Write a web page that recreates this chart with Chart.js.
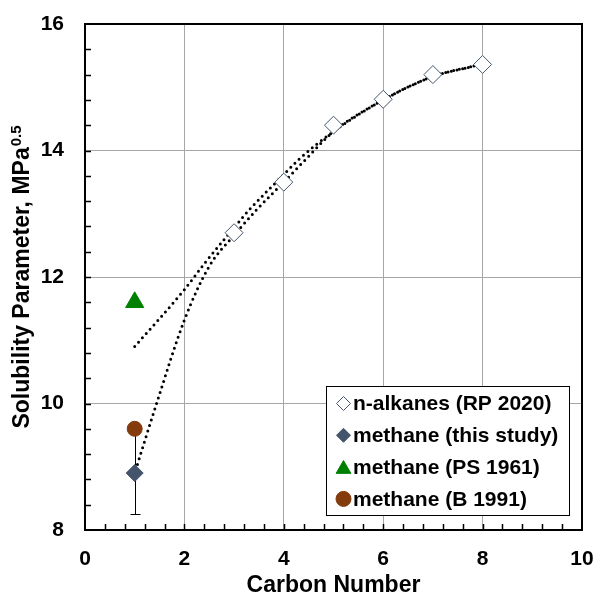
<!DOCTYPE html>
<html>
<head>
<meta charset="utf-8">
<script src="https://cdn.jsdelivr.net/npm/chart.js@4/dist/chart.umd.min.js"></script>
<style>
  html, body { margin: 0; padding: 0; background: #fff; }
  canvas { display: block; }
</style>
</head>
<body>
<canvas id="chart" width="598" height="596"></canvas>
<script>
// Axis ticks
const xTicks = [0, 2, 4, 6, 8, 10];
const yTicks = [8, 10, 12, 14, 16];

// n-alkanes (RP 2020)
const alkaneCarbon = [3, 4, 5, 6, 7, 8];
const alkaneDelta = [12.7, 13.5, 14.4, 14.81, 15.2, 15.36];

// methane (this study), with uncertainty
const methaneCarbon = [1];
const methaneDelta = [8.9];
const methaneError = [0.65];

// methane literature values
const ps1961Carbon = [1];
const ps1961Delta = [11.6];
const b1991Carbon = [1];
const b1991Delta = [9.6];

// dotted trend curves
const trendAX = [1, 2, 2.41, 3, 3.29, 4, 4.29, 5, 6, 7, 7.85];
const trendAY = [10.9, 11.8, 12.22, 12.78, 13.05, 13.62, 13.85, 14.3, 14.8, 15.17, 15.34];
const trendBX = [1.02, 1.44, 2, 2.5, 3, 3.45, 4, 4.43, 5, 6, 7, 7.85];
const trendBY = [8.95, 10.0, 11.32, 12.17, 12.66, 13.06, 13.5, 13.85, 14.3, 14.8, 15.17, 15.34];

const seriesLabels = ['n-alkanes (RP 2020)', 'methane (this study)', 'methane (PS 1961)', 'methane (B 1991)'];

const SLATE = '#44546A';
const GREEN = '#008000';
const BROWN = '#843C0C';
const FONT_FAMILY = '"Liberation Sans", Arial, Helvetica, sans-serif';

const toPoints = (xs, ys) => xs.map((x, i) => ({ x: x, y: ys[i] }));

const trendStyle = {
  type: 'line',
  showLine: true,
  pointRadius: 0,
  pointHoverRadius: 0,
  borderColor: '#000',
  borderWidth: 3,
  borderDash: [0, 5.8],
  borderCapStyle: 'round',
  cubicInterpolationMode: 'monotone',
  fill: false,
  order: 10,
  inLegend: false
};

// keep the plot area fixed: no extra edge padding from the tick labels
const fixScale = size => s => {
  if (s.isHorizontal()) s.height = size; else s.width = size;
  s.paddingLeft = 0; s.paddingRight = 0; s.paddingTop = 0; s.paddingBottom = 0;
};

// error bars drawn under the markers
const errorBarPlugin = {
  id: 'errorBars',
  beforeDatasetsDraw(chart) {
    const ctx = chart.ctx;
    const xs = chart.scales.x, ys = chart.scales.y;
    chart.data.datasets.forEach(ds => {
      if (!ds.errors) return;
      ds.data.forEach((p, i) => {
        const e = ds.errors[i];
        const px = Math.round(xs.getPixelForValue(p.x)) + 0.5;
        const top = Math.round(ys.getPixelForValue(p.y + e)) + 0.5;
        const bot = Math.round(ys.getPixelForValue(p.y - e)) + 0.5;
        ctx.save();
        ctx.strokeStyle = '#000';
        ctx.lineWidth = 1;
        ctx.beginPath();
        ctx.moveTo(px, top);
        ctx.lineTo(px, bot);
        ctx.moveTo(px - 5, top);
        ctx.lineTo(px + 5, top);
        ctx.moveTo(px - 5, bot);
        ctx.lineTo(px + 5, bot);
        ctx.stroke();
        ctx.restore();
      });
    });
  }
};

// plot frame, inward minor ticks, axis titles and the boxed legend
const decorPlugin = {
  id: 'decor',
  afterDraw(chart) {
    const ctx = chart.ctx;
    const a = chart.chartArea;
    const xs = chart.scales.x, ys = chart.scales.y;

    ctx.save();
    // inward tick marks every 0.4 units
    ctx.strokeStyle = '#000';
    ctx.lineWidth = 1.5;
    ctx.beginPath();
    for (let i = 1; i < 25; i++) {
      const px = Math.round(xs.getPixelForValue(i * 0.4)) + 0.5;
      ctx.moveTo(px, a.bottom);
      ctx.lineTo(px, a.bottom - 6);
    }
    for (let i = 1; i < 20; i++) {
      const py = Math.round(ys.getPixelForValue(8 + i * 0.4)) + 0.5;
      ctx.moveTo(a.left, py);
      ctx.lineTo(a.left + 6, py);
    }
    ctx.stroke();

    // frame
    ctx.lineWidth = 2;
    ctx.strokeRect(a.left, a.top, a.right - a.left, a.bottom - a.top);

    // x title
    ctx.fillStyle = '#000';
    ctx.font = 'bold 23px ' + FONT_FAMILY;
    ctx.textAlign = 'center';
    ctx.textBaseline = 'alphabetic';
    ctx.fillText('Carbon Number', (a.left + a.right) / 2, 592);

    // y title with superscript unit exponent
    const main = 'Solubility Parameter, MPa';
    const sup = '0.5';
    const mainFont = 'bold 23px ' + FONT_FAMILY;
    const supFont = 'bold 15px ' + FONT_FAMILY;
    ctx.font = mainFont;
    const wMain = ctx.measureText(main).width;
    ctx.font = supFont;
    const wSup = ctx.measureText(sup).width;
    const total = wMain + wSup + 1;
    ctx.translate(29, (a.top + a.bottom) / 2);
    ctx.rotate(-Math.PI / 2);
    ctx.textAlign = 'left';
    ctx.font = mainFont;
    ctx.fillText(main, -total / 2, 0);
    ctx.font = supFont;
    ctx.fillText(sup, -total / 2 + wMain + 1, -8);
    ctx.restore();

    // legend box
    const box = { x: 326, y: 386, w: 243, h: 129 };
    ctx.save();
    ctx.fillStyle = '#fff';
    ctx.fillRect(box.x, box.y, box.w, box.h);
    ctx.strokeStyle = '#000';
    ctx.lineWidth = 1;
    ctx.strokeRect(box.x + 0.5, box.y + 0.5, box.w, box.h);
    const entries = chart.data.datasets.filter(ds => ds.inLegend);
    ctx.font = 'bold 21px ' + FONT_FAMILY;
    ctx.textAlign = 'left';
    ctx.textBaseline = 'middle';
    entries.forEach((ds, i) => {
      const cy = box.y + 17.5 + i * 31.8;
      ctx.fillStyle = ds.backgroundColor;
      ctx.strokeStyle = ds.borderColor;
      ctx.lineWidth = ds.borderWidth;
      Chart.helpers.drawPoint(ctx, {
        pointStyle: ds.pointStyle,
        radius: ds.legendRadius,
        rotation: 0,
        borderWidth: ds.borderWidth
      }, box.x + 17.5, cy + (ds.pointStyle === 'triangle' ? 2 : 0));
      ctx.fillStyle = '#000';
      ctx.fillText(ds.label, box.x + 27, cy + 1);
    });
    ctx.restore();
  }
};

new Chart(document.getElementById('chart'), {
  type: 'scatter',
  data: {
    datasets: [
      {
        label: seriesLabels[0],
        data: toPoints(alkaneCarbon, alkaneDelta),
        pointStyle: 'rectRot',
        pointRadius: 9,
        legendRadius: 7,
        backgroundColor: '#fff',
        borderColor: SLATE,
        borderWidth: 1,
        order: 1,
        inLegend: true
      },
      {
        label: seriesLabels[1],
        data: toPoints(methaneCarbon, methaneDelta),
        errors: methaneError,
        pointStyle: 'rectRot',
        pointRadius: 8.5,
        legendRadius: 7,
        backgroundColor: SLATE,
        borderColor: SLATE,
        borderWidth: 1,
        order: 1,
        inLegend: true
      },
      {
        label: seriesLabels[2],
        data: toPoints(ps1961Carbon, ps1961Delta),
        pointStyle: 'triangle',
        pointRadius: 10.5,
        legendRadius: 8.5,
        backgroundColor: GREEN,
        borderColor: GREEN,
        borderWidth: 1,
        order: 1,
        inLegend: true
      },
      {
        label: seriesLabels[3],
        data: toPoints(b1991Carbon, b1991Delta),
        pointStyle: 'circle',
        pointRadius: 7.5,
        legendRadius: 7.5,
        backgroundColor: BROWN,
        borderColor: BROWN,
        borderWidth: 1,
        order: 1,
        inLegend: true
      },
      Object.assign({ label: 'trend A', data: toPoints(trendAX, trendAY) }, trendStyle),
      Object.assign({ label: 'trend B', data: toPoints(trendBX, trendBY) }, trendStyle)
    ]
  },
  options: {
    responsive: false,
    devicePixelRatio: 1,
    animation: false,
    layout: { padding: { left: 0, top: 24, right: 16, bottom: 0 } },
    plugins: {
      legend: { display: false },
      tooltip: { enabled: false }
    },
    scales: {
      x: {
        type: 'linear',
        min: 0,
        max: 10,
        afterBuildTicks: s => { s.ticks = xTicks.map(v => ({ value: v })); },
        afterFit: fixScale(66),
        ticks: {
          color: '#000',
          padding: 17,
          font: { family: FONT_FAMILY, size: 21, weight: 'bold' }
        },
        grid: { color: '#a6a6a6', lineWidth: 1, drawTicks: false },
        border: { display: false }
      },
      y: {
        type: 'linear',
        min: 8,
        max: 16,
        afterBuildTicks: s => { s.ticks = yTicks.map(v => ({ value: v })); },
        afterFit: fixScale(85),
        ticks: {
          color: '#000',
          padding: 21,
          font: { family: FONT_FAMILY, size: 21, weight: 'bold' }
        },
        grid: { color: '#a6a6a6', lineWidth: 1, drawTicks: false },
        border: { display: false }
      }
    }
  },
  plugins: [errorBarPlugin, decorPlugin]
});
</script>
</body>
</html>
